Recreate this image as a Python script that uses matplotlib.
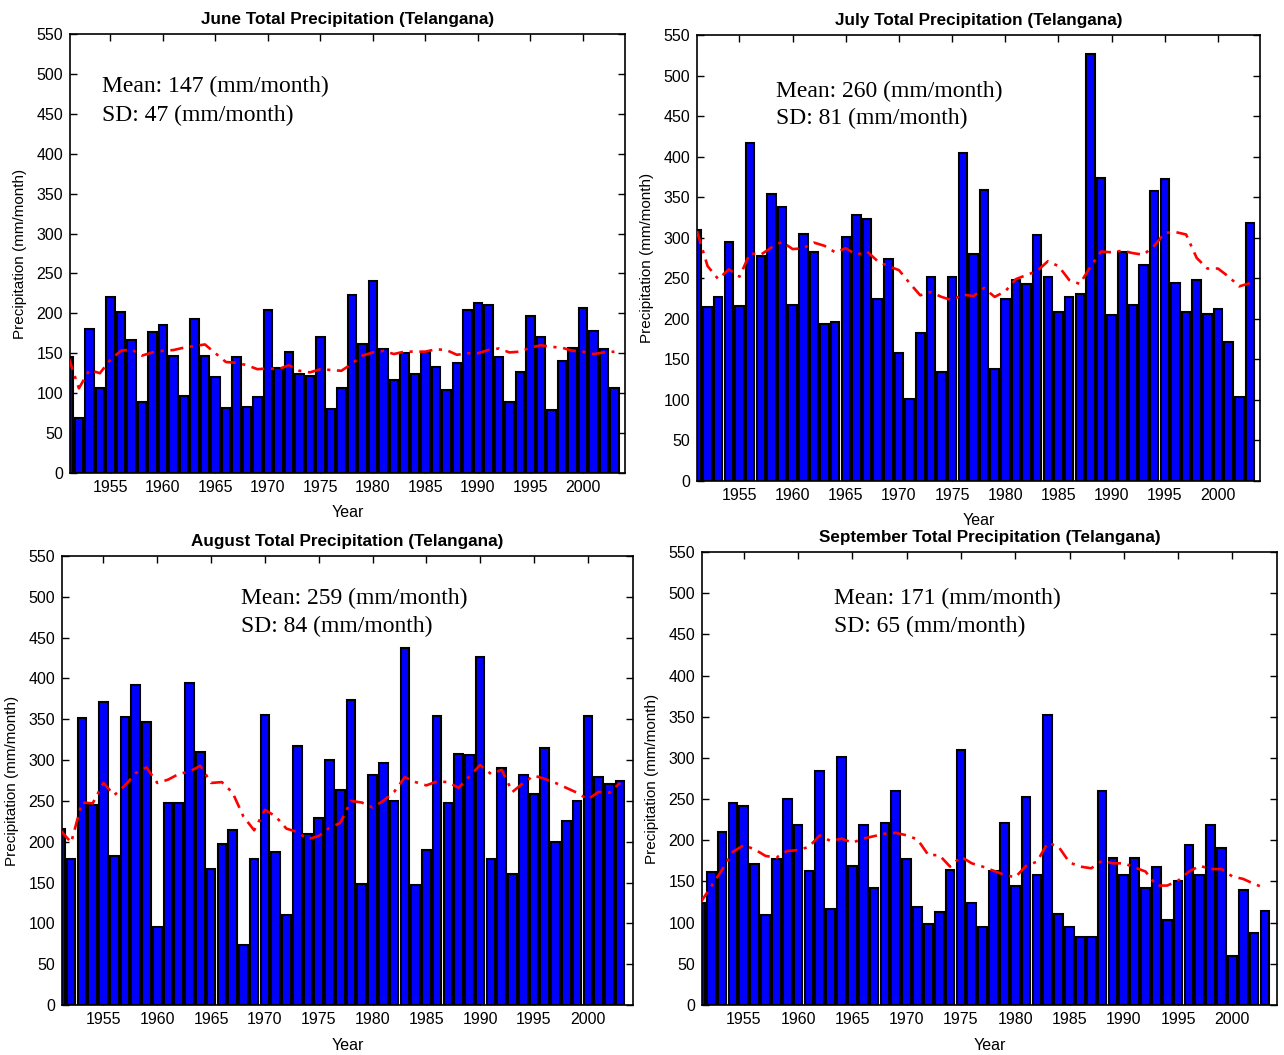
import matplotlib
matplotlib.use("Agg")
import matplotlib.pyplot as plt
import numpy as np

years = list(range(1951, 2004))

june_precip = [145, 69, 180, 107, 220, 202, 167, 89, 177, 185,
               147, 96, 193, 147, 120, 82, 145, 83, 95, 204,
               132, 152, 124, 122, 170, 80, 107, 223, 162, 241,
               155, 116, 150, 124, 151, 133, 104, 138, 204, 213,
               210, 145, 89, 127, 197, 170, 79, 140, 157, 207,
               178, 155, 106]
june_smooth = [145, 106, 129, 125, 142, 153, 155, 147, 151, 153,
               154, 157, 159, 161, 150, 139, 138, 135, 130, 131,
               130, 135, 128, 126, 130, 129, 128, 137, 147, 151,
               153, 149, 152, 152, 152, 155, 154, 148, 150, 150,
               154, 156, 151, 152, 157, 160, 158, 157, 153, 152,
               149, 151, 152]

july_precip = [309, 214, 227, 295, 216, 417, 277, 354, 338, 217,
               305, 282, 193, 196, 301, 328, 323, 224, 274, 158,
               101, 182, 252, 134, 251, 405, 280, 359, 138, 224,
               248, 243, 303, 252, 209, 227, 231, 526, 374, 205,
               282, 217, 266, 358, 372, 244, 209, 248, 206, 212,
               172, 103, 318]
july_smooth = [308, 265, 249, 261, 252, 281, 279, 288, 295, 286,
               287, 294, 290, 282, 287, 279, 283, 271, 265, 260,
               244, 229, 233, 227, 223, 230, 228, 238, 227, 234,
               249, 254, 259, 271, 265, 248, 243, 264, 283, 282,
               284, 281, 279, 290, 306, 307, 304, 275, 262, 262,
               252, 240, 244]

august_precip = [216, 179, 352, 245, 371, 182, 353, 392, 347, 95,
                 248, 248, 394, 310, 166, 197, 214, 74, 179, 355,
                 187, 110, 317, 209, 229, 300, 263, 373, 148, 282,
                 296, 250, 437, 147, 190, 354, 247, 308, 306, 426,
                 179, 290, 161, 282, 259, 315, 200, 225, 250, 354,
                 279, 271, 274]
august_smooth = [214, 199, 248, 247, 272, 257, 269, 284, 291, 272,
                 276, 283, 286, 293, 272, 273, 260, 231, 214, 239,
                 231, 216, 212, 203, 207, 217, 223, 250, 248, 242,
                 250, 261, 279, 273, 269, 274, 273, 266, 280, 294,
                 283, 288, 261, 272, 281, 277, 272, 266, 260, 252,
                 261, 260, 272]

september_precip = [124, 161, 210, 245, 242, 171, 109, 177, 250, 219,
                    163, 284, 116, 301, 169, 219, 142, 221, 260, 177,
                    119, 98, 113, 164, 310, 124, 95, 163, 221, 145,
                    252, 158, 352, 111, 95, 82, 82, 260, 179, 158,
                    179, 142, 167, 103, 150, 194, 158, 219, 190, 59,
                    140, 87, 114]
september_smooth = [124, 144, 164, 186, 194, 189, 181, 179, 187, 188,
                    192, 206, 199, 202, 197, 202, 205, 208, 209, 206,
                    201, 182, 182, 168, 180, 172, 168, 163, 158, 155,
                    169, 174, 197, 192, 173, 168, 166, 175, 172, 172,
                    167, 162, 145, 145, 151, 162, 169, 165, 165, 156,
                    153, 147, 142]

titles = ["June Total Precipitation (Telangana)",
          "July Total Precipitation (Telangana)",
          "August Total Precipitation (Telangana)",
          "September Total Precipitation (Telangana)"]
means = [147, 260, 259, 171]
sds = [47, 81, 84, 65]

panels = [
    dict(rect=[0.0545, 0.5517, 0.4322, 0.4161], precip=june_precip,
         smooth=june_smooth, text_xy=(1954.2, 484, 448), xlim=(1951.15, 2004.0),
         ylab_x=-0.078, xlab_y=-0.074),
    dict(rect=[0.5428, 0.5441, 0.4385, 0.4227], precip=july_precip,
         smooth=july_smooth, text_xy=(1958.4, 481, 447), xlim=(1951.0, 2003.95),
         ylab_x=-0.076, xlab_y=-0.072),
    dict(rect=[0.0483, 0.0474, 0.4447, 0.4256], precip=august_precip,
         smooth=august_smooth, text_xy=(1967.8, 498, 464), xlim=(1951.15, 2004.2),
         ylab_x=-0.075, xlab_y=-0.074),
    dict(rect=[0.5467, 0.0474, 0.4478, 0.4294], precip=september_precip,
         smooth=september_smooth, text_xy=(1963.3, 494, 460), xlim=(1951.15, 2004.1),
         ylab_x=-0.075, xlab_y=-0.072),
]

sans = "Liberation Sans"
serif = "Liberation Serif"

fig = plt.figure(figsize=(12.84, 10.55), dpi=100)

for title, mean, sd, p in zip(titles, means, sds, panels):
    ax = fig.add_axes(p["rect"])
    ax.bar(years, p["precip"], width=0.8, color="#0000ff",
           edgecolor="black", linewidth=1.5, zorder=2)
    ax.plot(years, p["smooth"], color="#ff0000", linewidth=1.9,
            linestyle=(0, (5, 2.5, 1.2, 2.5)), zorder=3)
    ax.set_xlim(*p["xlim"])
    ax.set_ylim(0, 550)
    ax.set_yticks(np.arange(0, 551, 50))
    ax.set_xticks(np.arange(1955, 2001, 5))
    ax.tick_params(direction="in", top=True, right=True, length=5,
                   width=1.0, labelsize=11.5, pad=5)
    for lbl in ax.get_xticklabels() + ax.get_yticklabels():
        lbl.set_fontfamily(sans)
    for s in ax.spines.values():
        s.set_linewidth(1.2)
    ax.set_title(title, fontsize=12.3, fontweight="bold", family=sans, pad=7)
    ax.set_ylabel("Precipitation (mm/month)", fontsize=11, family=sans)
    ax.yaxis.set_label_coords(p["ylab_x"], 0.5)
    ax.set_xlabel("Year", fontsize=11.5, family=sans)
    ax.xaxis.set_label_coords(0.5, p["xlab_y"])
    tx, ty1, ty2 = p["text_xy"]
    ax.text(tx, ty1, f"Mean: {mean} (mm/month)", family=serif, fontsize=17,
            va="center", ha="left")
    ax.text(tx, ty2, f"SD: {sd} (mm/month)", family=serif, fontsize=17,
            va="center", ha="left")

fig.savefig("out.png", dpi=100)
